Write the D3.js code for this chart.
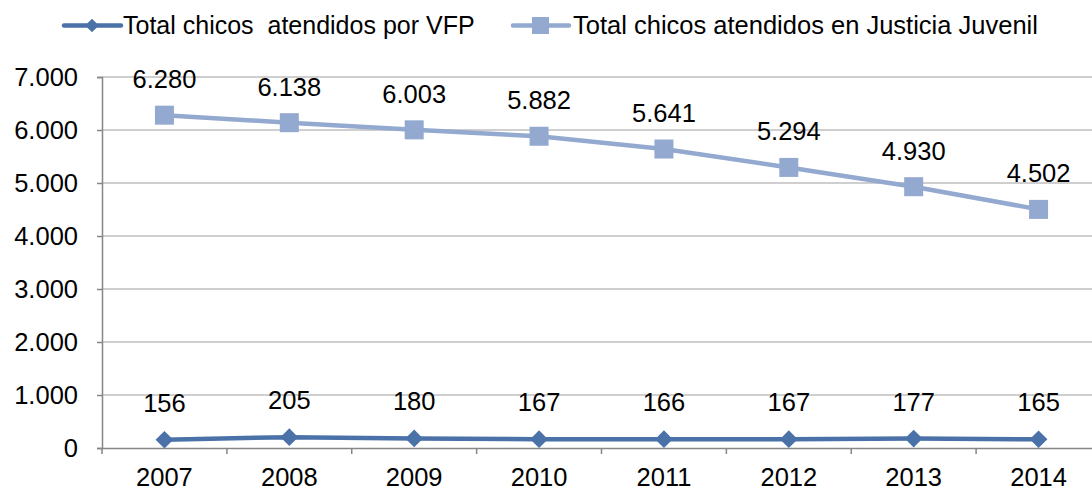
<!DOCTYPE html>
<html>
<head>
<meta charset="utf-8">
<script src="https://cdn.jsdelivr.net/npm/d3@7"></script>
<style>
  body { margin: 0; background: #fff; }
  text { font-family: "Liberation Sans", Arial, sans-serif; fill: #000; }
</style>
</head>
<body>
<div id="chart"></div>
<script>
const years = ['2007', '2008', '2009', '2010', '2011', '2012', '2013', '2014']
const vfp = [156, 205, 180, 167, 166, 167, 177, 165]
const justicia = [6280, 6138, 6003, 5882, 5641, 5294, 4930, 4502]
const yTicks = [0, 1000, 2000, 3000, 4000, 5000, 6000, 7000]
const seriesNames = ['Total chicos  atendidos por VFP', 'Total chicos atendidos en Justicia Juvenil']

const width = 1092, height = 490
const margin = { left: 102, right: -9, top: 77, bottom: 42 }
const fs = '25.5px'
const fmt = v => d3.format(',')(v).replace(/,/g, '.')

const svg = d3.select('#chart').append('svg')
  .attr('width', width).attr('height', height)

const x = d3.scaleBand().domain(years)
  .range([margin.left, width - margin.right])
const y = d3.scaleLinear().domain([0, 7000])
  .range([height - margin.bottom, margin.top])

// gridlines
svg.append('g').selectAll('line').data(yTicks.slice(1)).enter().append('line')
  .attr('x1', margin.left).attr('x2', width - margin.right)
  .attr('y1', d => y(d)).attr('y2', d => y(d))
  .attr('stroke', '#bfbfbf').attr('stroke-width', 1.5)

// y axis
const yAxis = svg.append('g').attr('transform', `translate(${margin.left},0)`)
  .call(d3.axisLeft(y).tickValues(yTicks).tickFormat(fmt).tickSize(5).tickPadding(19))
yAxis.select('.domain').attr('stroke', '#868686').attr('stroke-width', 1.5)
yAxis.selectAll('.tick line').attr('stroke', '#868686').attr('stroke-width', 1.5)
yAxis.selectAll('text').style('font-size', fs)

// x axis
const xAxis = svg.append('g').attr('transform', `translate(0,${y(0)})`)
  .call(d3.axisBottom(x).tickSize(0).tickPadding(19.5))
xAxis.select('.domain').attr('stroke', '#868686').attr('stroke-width', 1.5)
xAxis.selectAll('text').style('font-size', fs)
svg.append('g').selectAll('line').data(d3.range(years.length + 1)).enter().append('line')
  .attr('x1', i => margin.left + i * x.bandwidth()).attr('x2', i => margin.left + i * x.bandwidth())
  .attr('y1', y(0)).attr('y2', y(0) + 6)
  .attr('stroke', '#868686').attr('stroke-width', 1.5)

const cx = d => x(d) + x.bandwidth() / 2
const line = vals => d3.line().x((d, i) => cx(years[i])).y(d => y(d))(vals)

const colJ = '#93a9cf', colV = '#4a72a8'

// justicia juvenil
svg.append('path').attr('d', line(justicia))
  .attr('fill', 'none').attr('stroke', colJ).attr('stroke-width', 4.5)
svg.append('g').selectAll('rect').data(justicia).enter().append('rect')
  .attr('x', (d, i) => cx(years[i]) - 9.5).attr('y', d => y(d) - 9.5)
  .attr('width', 19).attr('height', 19).attr('fill', colJ)
svg.append('g').selectAll('text').data(justicia).enter().append('text')
  .attr('x', (d, i) => cx(years[i])).attr('y', d => y(d) - 27)
  .attr('text-anchor', 'middle').style('font-size', fs).text(fmt)

// VFP
const diamond = d3.symbol().type(d3.symbolDiamond2).size(200)
svg.append('path').attr('d', line(vfp))
  .attr('fill', 'none').attr('stroke', colV).attr('stroke-width', 4.5)
svg.append('g').selectAll('path').data(vfp).enter().append('path')
  .attr('d', diamond)
  .attr('transform', (d, i) => `translate(${cx(years[i])},${y(d)})`)
  .attr('fill', colV)
svg.append('g').selectAll('text').data(vfp).enter().append('text')
  .attr('x', (d, i) => cx(years[i])).attr('y', d => y(d) - 28)
  .attr('text-anchor', 'middle').style('font-size', fs).text(fmt)

// legend
const leg = svg.append('g')
leg.append('line').attr('x1', 64).attr('x2', 121).attr('y1', 25.5).attr('y2', 25.5)
  .attr('stroke', colV).attr('stroke-width', 4.5).attr('stroke-linecap', 'round')
leg.append('path').attr('d', d3.symbol().type(d3.symbolDiamond2).size(120))
  .attr('transform', 'translate(92,25.5)').attr('fill', colV)
leg.append('text').attr('x', 123).attr('y', 34).style('font-size', '25px')
  .attr('xml:space', 'preserve').text(seriesNames[0])
leg.append('line').attr('x1', 513).attr('x2', 569).attr('y1', 25.5).attr('y2', 25.5)
  .attr('stroke', colJ).attr('stroke-width', 4.5).attr('stroke-linecap', 'round')
leg.append('rect').attr('x', 532).attr('y', 17).attr('width', 17).attr('height', 17).attr('fill', colJ)
leg.append('text').attr('x', 573).attr('y', 34).style('font-size', fs).text(seriesNames[1])
</script>
</body>
</html>
